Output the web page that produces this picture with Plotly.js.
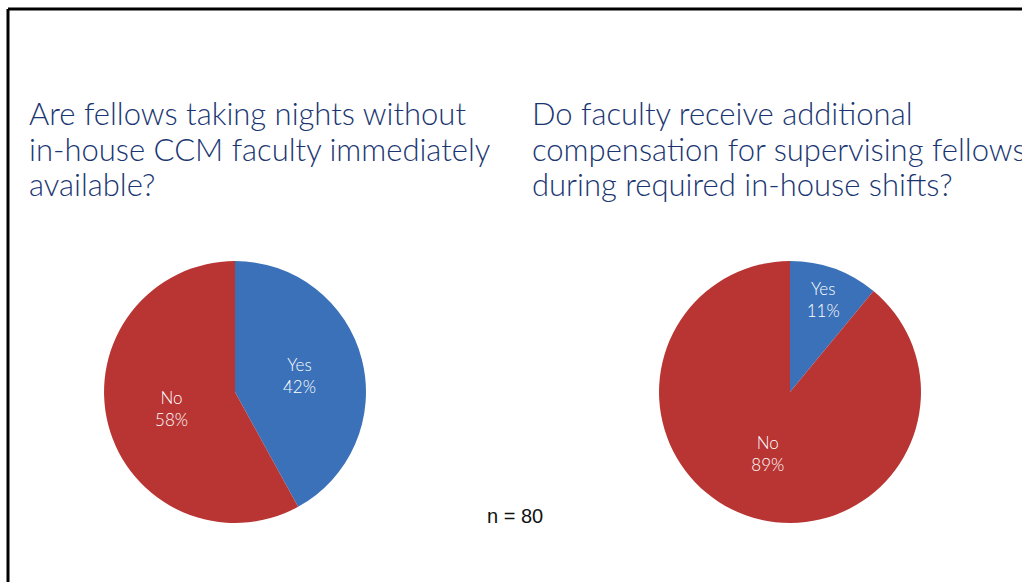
<!DOCTYPE html>
<html><head><meta charset="utf-8">
<script src="https://cdn.plot.ly/plotly-3.0.1.min.js"></script>
<style>html,body{margin:0;padding:0;background:#fff;}#chart{width:1022px;height:582px;}</style>
</head><body><div id="chart"></div>
<script>
const labels = ["Yes", "No"];
const nightsValues = [42, 58];
const compValues = [11, 89];
const leftTitleLines = ["Are fellows taking nights without", "in-house CCM faculty immediately", "available?"];
const rightTitleLines = ["Do faculty receive additional", "compensation for supervising fellows", "during required in-house shifts?"];
const noteText = "n = 80";

const colors = ["#3a71b9", "#b83533"];
function pie(values, xdom) {
  return {
    type: "pie", labels: labels, values: values, sort: false,
    direction: "clockwise", rotation: 0,
    marker: {colors: colors, line: {width: 0}},
    textinfo: "label+percent", textposition: "inside",
    insidetextorientation: "horizontal",
    textfont: {family: "Lato, sans-serif", size: 17, color: "#ffffff", weight: 300},
    hoverinfo: "none",
    domain: {x: xdom, y: [0.1014, 0.5515]}
  };
}
const data = [pie(nightsValues, [0.1018, 0.3581]), pie(compValues, [0.6448, 0.9012])];
const titleFont = {family: "Lato, sans-serif", size: 31, color: "#1a3672", weight: 300};
const baselines = [123, 159, 194];
const annotations = [];
function addTitle(lines, xpx) {
  lines.forEach((t, i) => {
    annotations.push({text: t, xref: "paper", yref: "paper", x: xpx/1022, y: 1 - (baselines[i] - 31)/582,
      xanchor: "left", yanchor: "top", align: "left", showarrow: false, font: titleFont});
  });
}
addTitle(leftTitleLines, 27);
addTitle(rightTitleLines, 530);
annotations.push({text: noteText, xref: "paper", yref: "paper", x: 515/1022, y: 1 - 516/582, xanchor: "center", yanchor: "middle", showarrow: false, font: {family: "Liberation Sans, Arial, sans-serif", size: 20, color: "#111111"}});
const layout = {
  width: 1022, height: 582, margin: {l: 0, r: 0, t: 0, b: 0},
  paper_bgcolor: "#ffffff", showlegend: false,
  annotations: annotations,
  shapes: [
    {type: "line", xref: "paper", yref: "paper", x0: 8/1022, x1: 8/1022, y0: 0, y1: 1 - 9/582, line: {color: "#000", width: 3}},
    {type: "line", xref: "paper", yref: "paper", x0: 8/1022, x1: 1, y0: 1 - 9/582, y1: 1 - 9/582, line: {color: "#000", width: 3}}
  ]
};
Plotly.newPlot("chart", data, layout, {displayModeBar: false, staticPlot: true});
</script></body></html>
